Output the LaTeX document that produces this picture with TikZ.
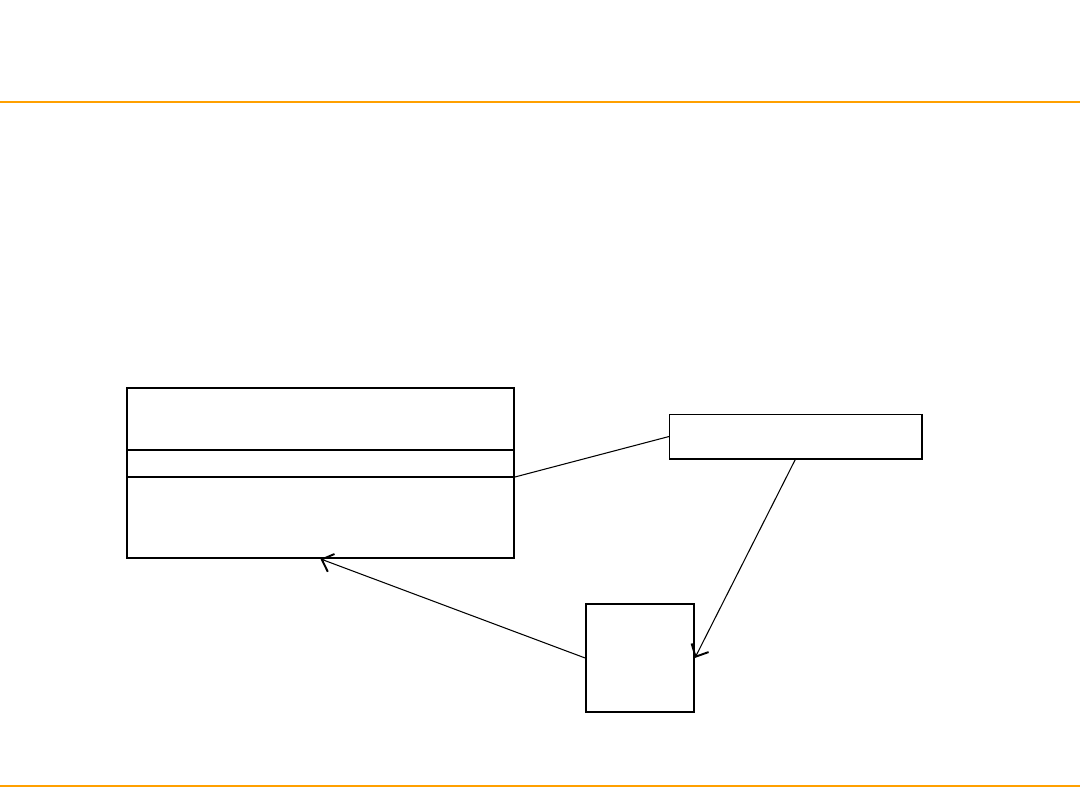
\documentclass[tikz,border=0pt]{standalone}
\usetikzlibrary{arrows.meta}
\definecolor{rule}{RGB}{255,160,0}
\begin{document}
\begin{tikzpicture}[
    box/.style={draw, line width=1.1pt, inner sep=0pt, anchor=north west},
    link/.style={line width=0.6pt},
    barb/.style={-{Straight Barb[length=2mm,width=3.8mm,line width=1.1pt]}}
  ]
  \useasboundingbox (0,0) rectangle (21.6,16.2);

  % Header and footer rules
  \draw[rule, line width=1.1pt] (0,14.16) -- (21.6,14.16);
  \draw[rule, line width=1.1pt] (0,0.48) -- (21.6,0.48);

  % Class box with its two compartment lines
  \node[box, minimum width=7.74cm, minimum height=3.40cm] (cls) at (2.52,8.46) {};
  \draw[line width=1.1pt] (cls.west |- 0,7.20) -- (cls.east |- 0,7.20);
  \draw[line width=1.1pt] (cls.west |- 0,6.66) coordinate (split) -- (cls.east |- 0,6.66) coordinate (attach);

  % Note box (right)
  \node[draw, line width=0.6pt, inner sep=0pt, anchor=north west,
        minimum width=5.04cm, minimum height=0.88cm] (note) at (13.38,7.92) {};
  \draw[line width=1.1pt] (note.north east) -- (note.south east) -- (note.south west);

  % Small square box
  \node[box, minimum width=2.16cm, minimum height=2.16cm] (item) at (11.70,4.14) {};

  % Connectors
  \draw[link] (attach) -- (note.west);
  \draw[link, barb] (note.south) -- (item.east);
  \draw[link, barb] (item.west) -- (cls.south);
\end{tikzpicture}
\end{document}
